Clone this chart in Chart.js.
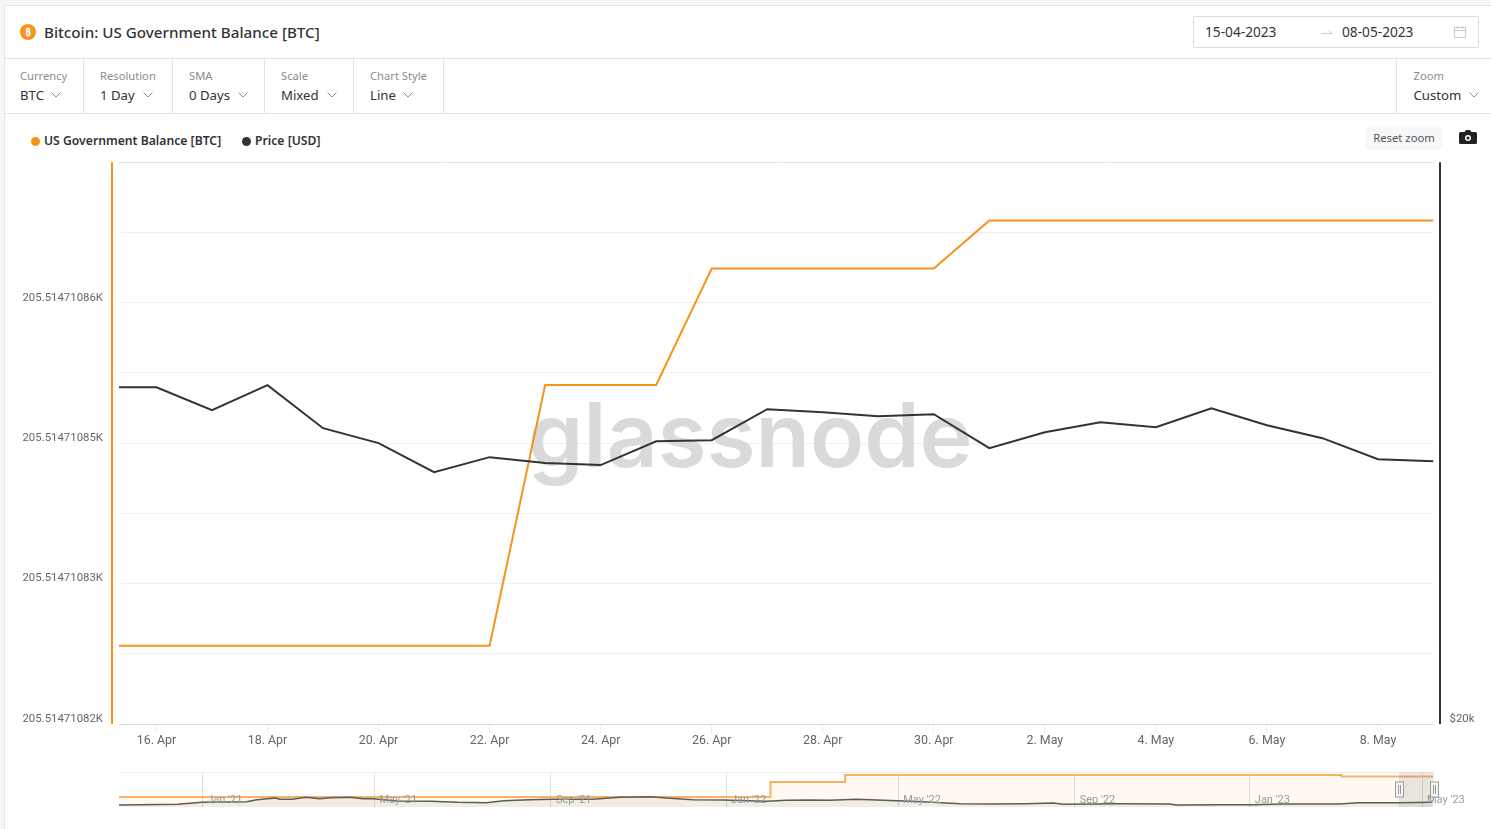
<!DOCTYPE html>
<html>
<head>
<meta charset="utf-8">
<title>Bitcoin: US Government Balance [BTC]</title>
<script src="https://cdn.jsdelivr.net/npm/chart.js@4/dist/chart.umd.min.js"></script>
<style>
  html, body { margin: 0; padding: 0; width: 1491px; height: 829px; overflow: hidden; background: #f5f6f8; }
  body { font-family: "Noto Sans", sans-serif; color: #333; }
  #card { position: absolute; left: 4px; top: 5px; width: 1487px; height: 824px; background: #fff; border-left: 1px solid #e6e6e6; border-top: 1px solid #e6e6e6; box-sizing: border-box; }
  .abs { position: absolute; white-space: nowrap; }
  .rule { position: absolute; background: #e4e4e4; }
  .lbl { position: absolute; font-size: 11.2px; line-height: 16px; color: #8c8c8c; white-space: nowrap; }
  .val { position: absolute; font-size: 13.2px; line-height: 18px; color: #333; white-space: nowrap; }
  .chev { position: absolute; width: 10px; height: 6px; }
  canvas { position: absolute; left: 0; }
</style>
</head>
<body>
<div id="card"></div>

<!-- header -->
<svg class="abs" style="left:20px;top:24px" width="16" height="16" viewBox="0 0 16 16">
  <circle cx="8" cy="8" r="8" fill="#f7931a"/>
  <text x="8" y="11.5" text-anchor="middle" font-family="Noto Sans" font-weight="700" font-size="10" fill="#fff">₿</text>
</svg>
<div class="abs" style="left:44px;top:22px;font-size:15.2px;line-height:20px;font-weight:500;color:#333">Bitcoin: US Government Balance [BTC]</div>
<div class="rule" style="left:4px;top:58px;width:1487px;height:1px"></div>

<div class="abs" style="left:1193px;top:16px;width:286px;height:32px;border:1px solid #dcdcdc;border-radius:2px;box-sizing:border-box"></div>
<div class="abs" style="left:1205px;top:23px;font-size:13.7px;line-height:18px">15-04-2023</div>
<svg class="abs" style="left:1321px;top:29px" width="12" height="6" viewBox="0 0 12 6" fill="none" stroke="#cccccc" stroke-width="1"><path d="M0 4.500H11.500L7.500 1.500"/></svg>
<div class="abs" style="left:1342px;top:23px;font-size:13.7px;line-height:18px">08-05-2023</div>
<svg class="abs" style="left:1453px;top:25px" width="14" height="14" viewBox="0 0 14 14" fill="none" stroke="#c8c8c8" stroke-width="1">
  <rect x="1.5" y="2.5" width="11" height="10"/><path d="M1.5 5.5h11M4.5 1v2.5M9.5 1v2.5"/>
</svg>

<!-- toolbar -->
<div class="rule" style="left:83px;top:59px;width:1px;height:54px"></div>
<div class="rule" style="left:172px;top:59px;width:1px;height:54px"></div>
<div class="rule" style="left:264px;top:59px;width:1px;height:54px"></div>
<div class="rule" style="left:353px;top:59px;width:1px;height:54px"></div>
<div class="rule" style="left:443px;top:59px;width:1px;height:54px"></div>
<div class="rule" style="left:1396px;top:59px;width:1px;height:54px"></div>
<div class="rule" style="left:4px;top:113px;width:1487px;height:1px"></div>
<div id="toolbar"></div>

<!-- legend + buttons -->
<div id="legend"></div>
<div class="abs" style="left:1365px;top:126px;width:78px;height:24px;line-height:24px;background:#f7f8fa;border-radius:4px;text-align:center;font-size:11.3px;color:#555">Reset zoom</div>
<svg class="abs" style="left:1459px;top:129px" width="18" height="16" viewBox="0 0 18 16">
  <path d="M1.5 3H5.5L7 1H11L12.500 3H16.500A1.500 1.500 0 0 1 18 4.500V13.500A1.500 1.500 0 0 1 16.500 15H1.500A1.500 1.500 0 0 1 0 13.500V4.500A1.500 1.500 0 0 1 1.500 3Z" fill="#222"/>
  <circle cx="9" cy="9" r="3" fill="#fff"/><circle cx="9" cy="9" r="1.500" fill="#222"/>
</svg>

<canvas id="main-chart" width="1491" height="646" style="top:114px"></canvas>
<canvas id="nav-chart" width="1491" height="67" style="top:762px"></canvas>

<script>
// Main chart data
const dayLabels = ["15. Apr", "16. Apr", "17. Apr", "18. Apr", "19. Apr", "20. Apr", "21. Apr", "22. Apr", "23. Apr", "24. Apr", "25. Apr", "26. Apr", "27. Apr", "28. Apr", "29. Apr", "30. Apr", "1. May", "2. May", "3. May", "4. May", "5. May", "6. May", "7. May", "8. May", "9. May"]
const balanceValues = [205514.7108278, 205514.7108278, 205514.7108278, 205514.7108278, 205514.7108278, 205514.7108278, 205514.7108278, 205514.7108278, 205514.7108538, 205514.7108538, 205514.7108538, 205514.7108654, 205514.7108654, 205514.7108654, 205514.7108654, 205514.7108654, 205514.7108702, 205514.7108702, 205514.7108702, 205514.7108702, 205514.7108702, 205514.7108702, 205514.7108702, 205514.7108702, 205514.7108702]
const priceValues = [30306, 30306, 29458, 30382, 28812, 28284, 27290, 27800, 27596, 27528, 28352, 28386, 29494, 29386, 29240, 29314, 28110, 28670, 29026, 28848, 29530, 28918, 28458, 27730, 27662]
const balanceTicks = [205514.71082, 205514.710827, 205514.710834, 205514.710841, 205514.710848, 205514.710855, 205514.710862, 205514.710869, 205514.710876]
const balanceTickLabels = ["205.51471082K", "", "205.51471083K", "", "205.51471085K", "", "205.51471086K", "", ""]
const priceTicks = [20000]
const priceTickLabels = ["$20k"]
const seriesNames = ["US Government Balance [BTC]", "Price [USD]"]
const seriesColors = ["#f7931a", "#333333"]

// Overview strip data
const navBalanceDates = ["2020-11-04", "2022-02-01", "2022-03-25", "2023-03-06", "2023-05-09"]
const navBalanceValues = [67000, 168000, 216000, 205500, 205500]
const navPriceDates = ["2020-11-04", "2020-12-15", "2021-01-01", "2021-02-01", "2021-02-08", "2021-02-21", "2021-02-24", "2021-03-05", "2021-03-14", "2021-03-24", "2021-03-31", "2021-04-14", "2021-04-23", "2021-04-30", "2021-05-17", "2021-06-09", "2021-06-28", "2021-07-18", "2021-07-30", "2021-08-17", "2021-09-02", "2021-09-30", "2021-10-19", "2021-11-09", "2021-11-23", "2021-12-09", "2021-12-30", "2022-01-16", "2022-01-29", "2022-02-12", "2022-02-28", "2022-03-14", "2022-04-02", "2022-04-30", "2022-05-18", "2022-06-13", "2022-07-04", "2022-07-29", "2022-08-17", "2022-08-24", "2022-10-02", "2022-11-06", "2022-11-11", "2022-12-11", "2023-01-03", "2023-01-24", "2023-02-12", "2023-03-04", "2023-03-18", "2023-04-15", "2023-05-08"]
const navPriceValues = [15000, 17000, 24300, 27000, 38600, 52400, 41500, 41500, 59300, 46200, 55300, 59300, 46200, 46200, 30600, 29100, 24300, 22600, 32300, 38600, 41500, 41500, 59300, 66000, 49600, 38600, 36600, 32300, 29100, 34700, 36600, 34700, 41500, 32300, 27000, 18900, 17900, 18900, 21400, 17000, 18900, 17900, 15000, 15800, 15800, 17900, 17900, 17900, 22600, 22600, 24300]
const navTickDates = ["2021-01-01", "2021-05-01", "2021-09-01", "2022-01-01", "2022-05-01", "2022-09-01", "2023-01-01", "2023-05-01"]
const navTickLabels = ["Jan '21", "May '21", "Sep '21", "Jan '22", "May '22", "Sep '22", "Jan '23", "May '23"]
const navRange = ["2020-11-04", "2023-05-09"]
const navSelection = ["2023-04-15", "2023-05-09"]

const toolbarItems = [
  { label: "Currency", value: "BTC", x: 20, chevron: 51 },
  { label: "Resolution", value: "1 Day", x: 100, chevron: 143 },
  { label: "SMA", value: "0 Days", x: 189, chevron: 238 },
  { label: "Scale", value: "Mixed", x: 281, chevron: 327 },
  { label: "Chart Style", value: "Line", x: 370, chevron: 403 },
  { label: "Zoom", value: "Custom", x: 1413.5, chevron: 1469 },
]

const toTime = (d) => new Date(d + "T00:00:00Z").getTime()

// Toolbar and legend are plain DOM
document.getElementById("toolbar").innerHTML = toolbarItems.map((item) => `
  <div class="lbl" style="left:${item.x}px;top:68px">${item.label}</div>
  <div class="val" style="left:${item.x}px;top:86px">${item.value}</div>
  <svg class="chev" style="left:${item.chevron}px;top:92px" viewBox="0 0 10 6" fill="none" stroke="#8c8c8c" stroke-width="1"><path d="M0.500 0.500L5 5L9.500 0.500"/></svg>
`).join("")

const legendX = [31, 242]
document.getElementById("legend").innerHTML = seriesNames.map((name, i) => `
  <div class="abs" style="left:${legendX[i]}px;top:136.500px;width:9px;height:9px;border-radius:50%;background:${seriesColors[i]}"></div>
  <div class="abs" style="left:${legendX[i] + 13}px;top:132px;font-size:12.2px;line-height:18px;font-weight:600;color:#333">${name}</div>
`).join("")

// Watermark under the lines, plus the two coloured axis rails
const mainDecor = {
  id: "mainDecor",
  beforeDatasetsDraw(chart) {
    const ctx = chart.ctx
    ctx.save()
    ctx.fillStyle = "#dadada"
    ctx.font = "600 89px Inter"
    ctx.textAlign = "center"
    ctx.textBaseline = "alphabetic"
    ctx.fillText("glassnode", 750, 353)
    ctx.restore()
  },
  afterDraw(chart) {
    const { ctx, chartArea } = chart
    ctx.save()
    ctx.lineWidth = 2
    ctx.strokeStyle = seriesColors[0]
    ctx.beginPath()
    ctx.moveTo(chartArea.left - 7, chartArea.top)
    ctx.lineTo(chartArea.left - 7, chartArea.bottom)
    ctx.stroke()
    ctx.strokeStyle = seriesColors[1]
    ctx.beginPath()
    ctx.moveTo(Math.round(chartArea.right) + 6, chartArea.top)
    ctx.lineTo(Math.round(chartArea.right) + 6, chartArea.bottom)
    ctx.stroke()
    ctx.restore()
  },
}

new Chart(document.getElementById("main-chart").getContext("2d"), {
  type: "line",
  data: {
    datasets: [
      {
        label: seriesNames[1],
        data: priceValues.map((v, i) => ({ x: i, y: v })),
        yAxisID: "yPrice",
        borderColor: seriesColors[1],
        borderWidth: 2,
        pointRadius: 0,
        tension: 0,
        order: 1,
      },
      {
        label: seriesNames[0],
        data: balanceValues.map((v, i) => ({ x: i, y: v })),
        yAxisID: "yBalance",
        borderColor: seriesColors[0],
        borderWidth: 2,
        pointRadius: 0,
        tension: 0,
        order: 2,
      },
    ],
  },
  options: {
    responsive: false,
    animation: false,
    layout: { padding: { top: 48.3, right: 0, bottom: 0, left: 0 } },
    plugins: { legend: { display: false }, tooltip: { enabled: false } },
    scales: {
      x: {
        type: "linear",
        min: 0.325,
        max: 24,
        afterBuildTicks(scale) {
          scale.ticks = dayLabels.map((_, i) => ({ value: i })).filter((t) => t.value % 2 === 1)
        },
        afterFit(scale) {
          scale.height = 36
        },
        border: { display: true, color: "#dcdcdc", width: 1 },
        grid: { drawOnChartArea: false, drawTicks: true, tickLength: 9, tickColor: "#eeeeee" },
        ticks: {
          autoSkip: false,
          maxRotation: 0,
          padding: 0,
          color: "#666666",
          font: { family: "Roboto", size: 12.4 },
          callback: (value) => dayLabels[value],
        },
      },
      yBalance: {
        type: "linear",
        position: "left",
        min: balanceTicks[0],
        max: balanceTicks[balanceTicks.length - 1],
        afterBuildTicks(scale) {
          scale.ticks = balanceTicks.map((value) => ({ value }))
        },
        afterFit(scale) {
          scale.width = 119
        },
        border: { display: false },
        grid: {
          drawTicks: false,
          color: (c) => (c.index === balanceTicks.length - 1 ? "#e4e4e4" : "#f0f0f0"),
        },
        ticks: {
          autoSkip: false,
          padding: 16,
          labelOffset: -5,
          color: "#666666",
          font: { family: "Roboto", size: 11.4 },
          callback: (value, index) => balanceTickLabels[index],
        },
      },
      yPrice: {
        type: "logarithmic",
        position: "right",
        min: 20000,
        max: 40000,
        afterBuildTicks(scale) {
          scale.ticks = priceTicks.map((value) => ({ value }))
        },
        afterFit(scale) {
          scale.width = 57.5
        },
        border: { display: false },
        grid: { display: false, drawTicks: false },
        ticks: {
          autoSkip: false,
          padding: 16,
          labelOffset: -5,
          color: "#666666",
          font: { family: "Roboto", size: 11.4 },
          callback: (value, index) => priceTickLabels[index],
        },
      },
    },
  },
  plugins: [mainDecor],
})

// Selection band and drag handles of the overview strip
const navDecor = {
  id: "navDecor",
  afterDraw(chart) {
    const { ctx, chartArea, scales } = chart
    const x0 = scales.x.getPixelForValue(toTime(navSelection[0]))
    const x1 = scales.x.getPixelForValue(toTime(navSelection[1]))
    ctx.save()
    ctx.strokeStyle = "#eeeeee"
    ctx.beginPath()
    ctx.moveTo(chartArea.left, chartArea.top + 0.5)
    ctx.lineTo(chartArea.right, chartArea.top + 0.5)
    ctx.stroke()
    ctx.fillStyle = "rgba(102, 102, 102, 0.14)"
    ctx.fillRect(x0, chartArea.top, x1 - x0, chartArea.bottom - chartArea.top)
    ;[x0, x1].forEach((x) => {
      const left = Math.round(x) - 3.5
      ctx.fillStyle = "#f7f7f7"
      ctx.strokeStyle = "#999999"
      ctx.lineWidth = 1
      ctx.fillRect(left, chartArea.top + 10, 8, 15)
      ctx.strokeRect(left, chartArea.top + 10, 8, 15)
      ctx.beginPath()
      ctx.moveTo(left + 3, chartArea.top + 13)
      ctx.lineTo(left + 3, chartArea.top + 22)
      ctx.moveTo(left + 5, chartArea.top + 13)
      ctx.lineTo(left + 5, chartArea.top + 22)
      ctx.stroke()
    })
    ctx.restore()
  },
}

new Chart(document.getElementById("nav-chart").getContext("2d"), {
  type: "line",
  data: {
    datasets: [
      {
        label: seriesNames[0],
        data: navBalanceValues.map((v, i) => ({ x: toTime(navBalanceDates[i]), y: v })),
        yAxisID: "yBalance",
        stepped: "before",
        borderColor: "#fbb163",
        borderWidth: 2,
        pointRadius: 0,
        fill: "start",
        backgroundColor: "rgba(247, 147, 26, 0.06)",
        order: 2,
      },
      {
        label: seriesNames[1],
        data: navPriceValues.map((v, i) => ({ x: toTime(navPriceDates[i]), y: v })),
        yAxisID: "yPrice",
        borderColor: "#5c5c5c",
        borderWidth: 1.5,
        pointRadius: 0,
        tension: 0,
        fill: "start",
        backgroundColor: "rgba(51, 51, 51, 0.07)",
        order: 1,
      },
    ],
  },
  options: {
    responsive: false,
    animation: false,
    layout: { padding: { top: 10, right: 57.5, bottom: 0, left: 119 } },
    plugins: { legend: { display: false }, tooltip: { enabled: false } },
    scales: {
      x: {
        type: "linear",
        min: toTime(navRange[0]),
        max: toTime(navRange[1]),
        afterBuildTicks(scale) {
          scale.ticks = navTickDates.map((d) => ({ value: toTime(d) }))
        },
        afterFit(scale) {
          scale.height = 22
        },
        border: { display: false },
        grid: { drawTicks: false, color: "#dedede" },
        ticks: {
          autoSkip: false,
          maxRotation: 0,
          mirror: true,
          align: "start",
          labelOffset: 5,
          padding: 0,
          z: 1,
          color: "#9a9a9a",
          font: { family: "Roboto", size: 11 },
          callback: (value, index) => navTickLabels[index],
        },
      },
      yBalance: { display: false, type: "linear", min: 0, max: 236000 },
      yPrice: { display: false, type: "logarithmic", min: 10500, max: 5430000 },
    },
  },
  plugins: [navDecor],
})
</script>
</body>
</html>
